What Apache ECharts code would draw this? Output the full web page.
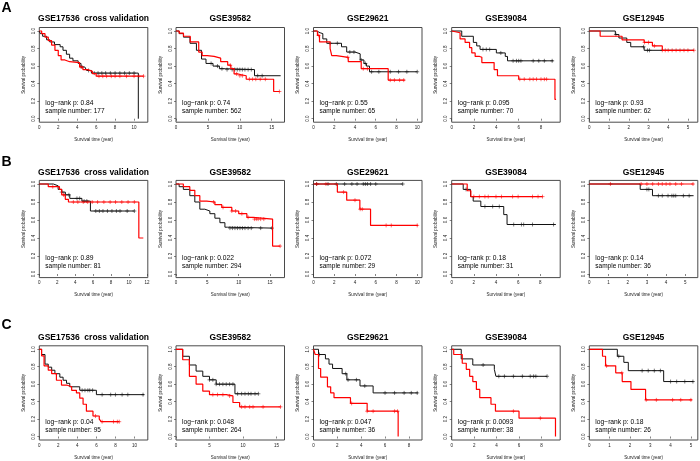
<!DOCTYPE html>
<html>
<head>
<meta charset="utf-8">
<script src="https://cdn.jsdelivr.net/npm/echarts@6/dist/echarts.min.js"></script>
<style>
html, body { margin: 0; padding: 0; background: #fff; }
#main { width: 700px; height: 461px; }
</style>
</head>
<body>
<div id="main"></div>
<script>
// panel texts
var titles = ['GSE17536  cross validation', 'GSE39582', 'GSE29621', 'GSE39084', 'GSE12945'];
var rowLetters = ['A', 'B', 'C'];
var pValues = [
	['0.84', '0.74', '0.55', '0.095', '0.93'],
	['0.89', '0.022', '0.072', '0.18', '0.14'],
	['0.04', '0.048', '0.047', '0.0093', '0.18']
];
var sampleNumbers = [
	['177', '562', '65', '70', '62'],
	['81', '294', '29', '31', '36'],
	['95', '264', '36', '38', '26']
];
// x tick labels per panel (years)
var ticksA = [[0, 2, 4, 6, 8, 10, 12], [0, 5, 10, 15], [0, 2, 4, 6, 8, 10], [0, 2, 4, 6, 8], [0, 1, 2, 3, 4, 5]];
var ticksB = [[0, 2, 4, 6, 8, 10, 12], [0, 5, 10, 15], [0, 2, 4, 6, 8, 10], [0, 2, 4, 6, 8], [0, 1, 2, 3, 4, 5]];
var ticksC = [[0, 2, 4, 6, 8, 10], [0, 5, 10, 15], [0, 2, 4, 6, 8], [0, 2, 4, 6, 8], [0, 1, 2, 3, 4, 5]];
var yTicks = [0, 0.2, 0.4, 0.6, 0.8, 1.0];
// axis end (max time + 4%)
var xMaxA = [11.45, 17.0, 10.46, 9.72, 5.5];
var xMaxB = [12.1, 17.3, 10.46, 9.8, 5.65];
var xMaxC = [11.4, 16.2, 9.1, 9.67, 5.34];

// Kaplan-Meier steps [time, survival] and censor times
var a1Black = [[0,1],[0.1,0.97],[0.35,0.94],[0.77,0.9],[1.1,0.875],[1.6,0.845],[2.2,0.82],[2.5,0.78],[2.86,0.735],[3.2,0.69],[3.55,0.66],[4.1,0.63],[4.4,0.59],[4.8,0.57],[5.0,0.55],[5.5,0.52],[10.45,0]];
var a1Red = [[0,1],[0.25,0.97],[0.6,0.93],[0.95,0.89],[1.3,0.84],[1.65,0.78],[2.0,0.72],[2.3,0.67],[2.7,0.65],[3.2,0.64],[4.25,0.59],[4.6,0.56],[5.1,0.54],[5.6,0.515],[6.0,0.485],[11.0,0.485]];
var a1BlackCens = [4.5, 5.2, 5.8, 6.2, 6.6, 7.0, 7.5, 8.0, 8.5, 9.0, 9.5, 10.0];
var a1RedCens = [4.4, 6.3, 6.7, 7.1, 7.6, 8.0, 8.5, 9.2, 10.0, 10.5, 11.0];

var a2Black = [[0,1],[0.5,0.97],[1.17,0.93],[2.2,0.86],[3.2,0.78],[4.0,0.68],[4.7,0.63],[5.8,0.6],[6.8,0.57],[7.8,0.56],[12.3,0.49],[16.4,0.49]];
var a2Red = [[0,1],[0.5,0.975],[1.17,0.94],[2.23,0.875],[3.56,0.76],[4.1,0.72],[4.9,0.71],[5.96,0.69],[7.0,0.65],[8.1,0.61],[8.6,0.57],[9.1,0.51],[9.7,0.49],[11.0,0.45],[15.3,0.31],[16.2,0.31]];
var a2BlackCens = [5.5, 6.5, 7.2, 8.0, 8.8, 9.2, 9.6, 10.0, 10.4, 10.8, 11.3, 11.8, 12.8, 13.5];
var a2RedCens = [8.5, 9.5, 10.0, 10.4, 11.5, 12.0, 12.5, 13.2, 14.0, 16.2];

var a3Black = [[0,1],[0.3,0.98],[0.64,0.97],[0.9,0.91],[1.28,0.86],[2.7,0.82],[3.2,0.76],[4.0,0.74],[4.5,0.67],[4.86,0.63],[5.1,0.6],[5.4,0.535],[10.0,0.535]];
var a3Red = [[0,1],[0.38,0.95],[0.58,0.875],[1.6,0.8],[1.76,0.72],[2.2,0.7],[3.35,0.65],[4.6,0.57],[7.2,0.44],[8.8,0.44]];
var a3BlackCens = [1.6, 2.3, 3.5, 3.9, 4.6, 5.0, 5.6, 6.3, 7.4, 8.2, 9.0, 10.0];
var a3RedCens = [0.5, 3.3, 4.8, 5.2, 7.4, 7.8, 8.3, 8.7];

var a4Black = [[0,1],[0.9,0.94],[1.94,0.87],[2.24,0.83],[2.54,0.79],[4.0,0.75],[4.8,0.71],[5.0,0.66],[9.1,0.66]];
var a4Red = [[0,1],[0.15,0.98],[0.75,0.91],[1.2,0.87],[1.6,0.81],[1.8,0.75],[2.1,0.71],[2.5,0.7],[2.7,0.64],[3.8,0.56],[4.1,0.49],[6.0,0.45],[9.25,0.22],[9.35,0.22]];
var a4BlackCens = [2.8, 3.1, 3.4, 4.4, 5.5, 5.8, 6.0, 6.2, 7.3, 7.8, 8.3, 9.0];
var a4RedCens = [6.1, 6.5, 7.0, 7.3, 7.6, 8.0, 8.3, 8.5];

var a5Black = [[0,1],[1.32,0.96],[1.5,0.92],[1.9,0.87],[2.1,0.82],[2.78,0.78],[5.3,0.78]];
var a5Red = [[0,1],[0.55,0.94],[1.66,0.9],[2.78,0.87],[3.2,0.83],[3.7,0.78],[5.3,0.78]];
var a5BlackCens = [1.35, 2.75, 2.95, 3.05];
var a5RedCens = [2.8, 3.0, 3.3, 3.7, 3.85, 4.0, 4.2, 4.4, 4.6, 4.8, 5.0, 5.3];

var b1Black = [[0,1],[1.57,0.98],[2.1,0.94],[2.5,0.91],[2.9,0.88],[3.4,0.84],[4.75,0.81],[5.7,0.7],[10.6,0.7]];
var b1Red = [[0,1],[1.0,0.97],[2.25,0.94],[2.5,0.88],[2.9,0.83],[3.25,0.8],[11.1,0.4],[11.6,0.4]];
var b1BlackCens = [2.5, 2.9, 3.3, 4.2, 4.5, 5.0, 5.3, 6.3, 6.7, 7.1, 7.6, 8.1, 8.6, 9.0, 9.8, 10.6];
var b1RedCens = [1.5, 2.7, 3.8, 4.3, 4.9, 5.4, 5.9, 6.5, 7.2, 7.9, 8.5, 9.2, 9.9, 10.6];

var b2Black = [[0,1],[0.5,0.97],[1.17,0.94],[2.2,0.87],[3.0,0.8],[3.8,0.72],[4.6,0.7],[5.4,0.67],[6.2,0.62],[7.0,0.57],[7.8,0.52],[8.2,0.51],[15.4,0.51]];
var b2Red = [[0,1],[1.17,0.97],[2.2,0.93],[3.0,0.87],[3.8,0.81],[4.9,0.8],[6.2,0.77],[7.3,0.74],[8.9,0.7],[10.0,0.67],[11.3,0.63],[12.3,0.61],[15.4,0.31],[16.6,0.31]];
var b2BlackCens = [8.6, 9.0, 9.4, 9.8, 10.2, 10.6, 11.0, 11.5, 12.0, 13.5, 15.3];
var b2RedCens = [6.0, 7.5, 8.9, 9.5, 10.5, 11.5, 12.5, 12.8, 13.1, 13.5, 14.0, 16.6];

var b3Black = [[0,1],[8.6,1]];
var b3Red = [[0,1],[2.3,0.91],[3.2,0.82],[4.47,0.72],[5.5,0.54],[10.06,0.54]];
var b3BlackCens = [0.3, 1.4, 2.2, 3.0, 3.7, 4.2, 4.8, 5.0, 5.2, 5.5, 6.0, 8.6];
var b3RedCens = [0.3, 1.2, 2.9, 4.0, 4.5, 4.7, 7.0, 7.5, 10.0];

var b4Black = [[0,1],[1.04,0.94],[1.7,0.86],[1.94,0.81],[2.63,0.75],[4.7,0.66],[5.0,0.55],[9.4,0.55]];
var b4Red = [[0,1],[1.4,0.925],[1.73,0.86],[8.2,0.86]];
var b4BlackCens = [1.3, 3.0, 3.7, 4.3, 5.6, 6.3, 6.5, 7.3, 9.2];
var b4RedCens = [2.0, 2.5, 3.0, 3.3, 4.0, 4.5, 5.5, 6.0, 7.3, 7.8, 8.2];

var b5Black = [[0,1],[2.65,0.94],[3.29,0.87],[5.43,0.87]];
var b5Red = [[0,1],[5.43,1]];
var b5BlackCens = [3.0, 3.1, 3.6, 3.8, 4.1, 4.3, 4.4, 4.5, 4.9, 5.2];
var b5RedCens = [1.1, 2.7, 3.0, 3.3, 3.6, 3.8, 4.0, 4.2, 4.5, 4.8, 5.4];

var c1Black = [[0,1],[0.24,0.94],[0.6,0.83],[0.94,0.795],[1.3,0.76],[1.64,0.72],[2.16,0.68],[2.5,0.645],[2.86,0.61],[3.2,0.57],[4.25,0.53],[6.0,0.48],[11.0,0.48]];
var c1Red = [[0,1],[0.24,0.925],[0.5,0.81],[0.94,0.76],[1.3,0.72],[1.8,0.645],[2.33,0.59],[2.86,0.57],[3.4,0.53],[3.9,0.5],[4.25,0.44],[4.6,0.37],[4.95,0.29],[5.64,0.235],[6.3,0.2],[6.5,0.17],[8.4,0.17]];
var c1BlackCens = [4.5, 4.8, 5.1, 5.3, 5.6, 6.6, 7.5, 8.0, 8.7, 9.3, 10.9];
var c1RedCens = [5.9, 6.6, 7.8, 8.2, 8.4];

var c2Black = [[0,1],[1.0,0.92],[2.0,0.82],[3.0,0.75],[4.0,0.69],[5.0,0.65],[6.0,0.6],[8.8,0.49],[12.3,0.49]];
var c2Red = [[0,1],[1.0,0.88],[2.0,0.69],[3.0,0.6],[4.0,0.52],[5.0,0.48],[7.5,0.465],[8.5,0.39],[9.5,0.34],[15.6,0.34]];
var c2BlackCens = [5.0, 5.5, 6.0, 6.5, 7.0, 7.5, 8.0, 8.5, 9.2, 9.8, 10.3, 10.8, 11.2, 11.8, 12.3];
var c2RedCens = [5.5, 6.2, 7.0, 8.0, 9.8, 10.3, 11.0, 11.5, 13.0, 15.6];

var c3Black = [[0,1],[0.42,0.94],[1.0,0.89],[1.3,0.83],[1.6,0.78],[2.4,0.72],[2.8,0.65],[3.9,0.58],[5.0,0.5],[8.75,0.5]];
var c3Red = [[0,1],[0.14,0.94],[0.42,0.78],[0.6,0.68],[1.17,0.57],[1.44,0.5],[1.72,0.445],[3.1,0.38],[4.5,0.29],[7.1,0]];
var c3BlackCens = [0.5, 2.7, 2.9, 3.6, 4.3, 6.0, 6.8, 7.6, 8.2, 8.7];
var c3RedCens = [3.2, 4.5, 5.0, 6.8, 7.05];

var c4Black = [[0,1],[0.85,0.89],[1.88,0.82],[3.8,0.77],[3.94,0.69],[8.5,0.69]];
var c4Red = [[0,1],[0.18,0.94],[0.94,0.84],[1.3,0.77],[1.6,0.69],[1.88,0.63],[2.2,0.54],[2.5,0.445],[3.5,0.37],[3.9,0.29],[6.0,0.21],[9.25,0]];
var c4BlackCens = [2.8, 4.2, 4.7, 5.5, 6.3, 7.0, 7.3, 7.5, 8.5];
var c4RedCens = [5.5, 7.9];

var c5Black = [[0,1],[1.38,0.92],[1.7,0.85],[1.92,0.755],[3.66,0.63],[5.13,0.63]];
var c5Red = [[0,1],[0.65,0.92],[0.8,0.81],[1.3,0.73],[1.62,0.63],[2.05,0.54],[2.77,0.42],[5.05,0.42]];
var c5BlackCens = [1.45, 2.6, 2.9, 3.2, 3.5, 4.0, 4.3, 4.7, 5.1];
var c5RedCens = [0.85, 1.6, 2.8, 3.3, 4.1, 4.5, 5.0];

var curves = [
	[[a1Black, a1Red, a1BlackCens, a1RedCens], [a2Black, a2Red, a2BlackCens, a2RedCens], [a3Black, a3Red, a3BlackCens, a3RedCens], [a4Black, a4Red, a4BlackCens, a4RedCens], [a5Black, a5Red, a5BlackCens, a5RedCens]],
	[[b1Black, b1Red, b1BlackCens, b1RedCens], [b2Black, b2Red, b2BlackCens, b2RedCens], [b3Black, b3Red, b3BlackCens, b3RedCens], [b4Black, b4Red, b4BlackCens, b4RedCens], [b5Black, b5Red, b5BlackCens, b5RedCens]],
	[[c1Black, c1Red, c1BlackCens, c1RedCens], [c2Black, c2Red, c2BlackCens, c2RedCens], [c3Black, c3Red, c3BlackCens, c3RedCens], [c4Black, c4Red, c4BlackCens, c4RedCens], [c5Black, c5Red, c5BlackCens, c5RedCens]]
];
var xTicks = [ticksA, ticksB, ticksC];
var xMax = [xMaxA, xMaxB, xMaxC];

function survAt(curve, t) {
	var s = 1;
	for (var i = 0; i < curve.length; i++) {
		if (curve[i][0] <= t) s = curve[i][1];
	}
	return s;
}

function buildOption() {
	// layout (kept inside a function: a global "top" would clash with window.top)
	var colLeft = [39.3, 176, 313.5, 451.7, 589.3];
	var boxW = 108.5;
	var boxTop = [27.5, 180.4, 345.8];
	var boxH = [94.7, 97.2, 95.4];
	var titleY = [18.3, 172.7, 337.3];
	var letterY = [8, 162.5, 325.5];
	var FONT = '"Liberation Sans", Arial, sans-serif';
	var plus = 'path://M5,0L5,10M0,5L10,5';
	var cols = ['#111', '#ff0000'];
	var widths = [1, 1.2];

	var grids = [], xAxes = [], yAxes = [], series = [], graphics = [];
	for (var r = 0; r < 3; r++) {
		graphics.push({
			type: 'text', x: 1.5, y: letterY[r],
			style: { text: rowLetters[r], font: 'bold 14px ' + FONT, fill: '#000', verticalAlign: 'middle' }
		});
		for (var c = 0; c < 5; c++) {
			var idx = r * 5 + c;
			var bx = colLeft[c], by = boxTop[r], bh = boxH[r];
			grids.push({ left: bx, top: by, width: boxW, height: bh, show: true, borderColor: '#4a4a4a', borderWidth: 1 });
			var lim = xMax[r][c] + 0.01;
			var ticks = xTicks[r][c].filter(function (v) { return v <= lim; });
			xAxes.push({
				type: 'value', gridIndex: idx, min: 0, max: xMax[r][c],
				axisLine: { show: false },
				axisTick: { show: true, length: 2, lineStyle: { color: '#333', width: 0.6 }, customValues: ticks.slice() },
				axisLabel: { fontSize: 4.5, color: '#222', margin: 3, fontFamily: FONT, customValues: ticks.slice() },
				splitLine: { show: false },
				name: 'Survival time (year)', nameLocation: 'middle', nameGap: 15,
				nameTextStyle: { fontSize: 4.5, color: '#222', fontFamily: FONT }
			});
			yAxes.push({
				type: 'value', gridIndex: idx, min: -0.04, max: 1.04,
				axisLine: { show: false },
				axisTick: { show: true, length: 2, lineStyle: { color: '#333', width: 0.6 }, customValues: yTicks.slice() },
				axisLabel: { fontSize: 4.5, color: '#222', margin: 3, rotate: 90, fontFamily: FONT, customValues: yTicks.slice(), formatter: function (v) { return v.toFixed(1); } },
				splitLine: { show: false },
				name: 'Survival probability', nameLocation: 'middle', nameGap: 13,
				nameTextStyle: { fontSize: 4.5, color: '#222', fontFamily: FONT }
			});
			var cv = curves[r][c];
			for (var k = 0; k < 2; k++) {
				series.push({
					type: 'line', xAxisIndex: idx, yAxisIndex: idx, step: 'end',
					data: cv[k], showSymbol: false, silent: true,
					lineStyle: { color: cols[k], width: widths[k] }
				});
				var curve = cv[k];
				var cens = cv[k + 2].map(function (t) { return [t, survAt(curve, t)]; });
				series.push({
					type: 'scatter', xAxisIndex: idx, yAxisIndex: idx, data: cens,
					symbol: plus, symbolSize: 4, silent: true,
					itemStyle: { color: 'none', borderColor: cols[k], borderWidth: 0.7 }
				});
			}
			graphics.push({
				type: 'text', x: bx + boxW / 2, y: titleY[r],
				style: { text: titles[c], font: 'bold 8.5px ' + FONT, fill: '#000', align: 'center', verticalAlign: 'middle' }
			});
			graphics.push({
				type: 'text', x: bx + 6, y: by + bh - 19,
				style: { text: 'log\u2212rank p: ' + pValues[r][c], font: '6.7px ' + FONT, fill: '#000', verticalAlign: 'middle' }
			});
			graphics.push({
				type: 'text', x: bx + 6, y: by + bh - 11,
				style: { text: 'sample number: ' + sampleNumbers[r][c], font: '6.5px ' + FONT, fill: '#000', verticalAlign: 'middle' }
			});
		}
	}
	return {
		animation: false,
		backgroundColor: '#fff',
		grid: grids,
		xAxis: xAxes,
		yAxis: yAxes,
		series: series,
		graphic: graphics
	};
}

var myChart = echarts.init(document.getElementById('main'));
myChart.setOption(buildOption());
</script>
</body>
</html>
